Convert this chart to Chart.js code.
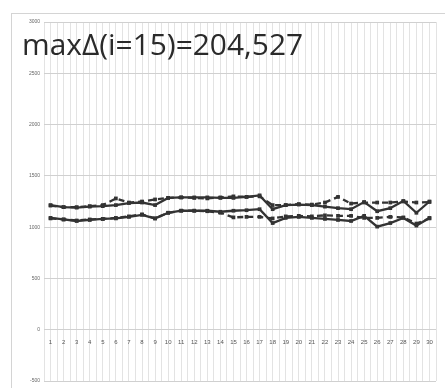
<!DOCTYPE html>
<html>
<head>
<meta charset="utf-8">
<script src="https://cdn.jsdelivr.net/npm/chart.js@4/dist/chart.umd.min.js"></script>
<style>
    html, body { margin: 0; padding: 0; background: #fff; }
    #wrap { position: relative; width: 445px; height: 388px; }
</style>
</head>
<body>
<div id="wrap"><canvas id="chart"></canvas></div>
<script>
// Data
const titleText = 'maxΔ(i=15)=204,527';
const steps = [1, 2, 3, 4, 5, 6, 7, 8, 9, 10, 11, 12, 13, 14, 15, 16, 17, 18, 19, 20, 21, 22, 23, 24, 25, 26, 27, 28, 29, 30];
const upperSolid = [1215, 1195, 1190, 1200, 1205, 1215, 1235, 1240, 1215, 1285, 1290, 1290, 1290, 1285, 1285, 1295, 1310, 1175, 1215, 1220, 1215, 1200, 1185, 1175, 1245, 1155, 1185, 1255, 1140, 1250];
const upperDashed = [1210, 1195, 1195, 1205, 1215, 1280, 1240, 1250, 1270, 1285, 1290, 1285, 1280, 1290, 1300, 1295, 1300, 1215, 1215, 1225, 1220, 1240, 1295, 1230, 1240, 1240, 1240, 1250, 1240, 1245];
const lowerSolid = [1090, 1075, 1060, 1070, 1080, 1085, 1100, 1120, 1085, 1140, 1160, 1160, 1160, 1150, 1160, 1165, 1175, 1040, 1090, 1100, 1090, 1080, 1070, 1060, 1110, 1005, 1040, 1090, 1015, 1090];
const lowerDashed = [1085, 1075, 1065, 1075, 1080, 1090, 1105, 1125, 1085, 1140, 1160, 1160, 1155, 1140, 1095, 1100, 1100, 1085, 1105, 1110, 1105, 1115, 1110, 1110, 1090, 1090, 1100, 1095, 1035, 1085];

const lineColor = '#333';

// Build a {x, y} series
function toPoints(values) {
    return values.map((v, i) => ({ x: steps[i], y: v }));
}

function makeSet(values, dashed) {
    return {
        data: toPoints(values),
        borderColor: lineColor,
        backgroundColor: lineColor,
        borderWidth: 2.3,
        borderDash: dashed ? [6, 4] : [],
        pointRadius: 1,
        pointStyle: 'rect',
        tension: 0
    };
}

// Outer frame and big text label
const decorPlugin = {
    id: 'decor',
    beforeDraw(chart) {
        const ctx = chart.ctx;
        ctx.save();
        ctx.strokeStyle = '#d4d4d4';
        ctx.lineWidth = 1;
        ctx.strokeRect(11.5, 13.5, 445, 390);
        ctx.restore();
    },
    afterDraw(chart) {
        const ctx = chart.ctx;
        ctx.save();
        ctx.font = '30px "Open Sans"';
        const w = ctx.measureText(titleText).width;
        const size = 30 * 281 / w;
        ctx.font = size.toFixed(1) + 'px "Open Sans"';
        ctx.fillStyle = '#2a2a2a';
        ctx.textBaseline = 'alphabetic';
        ctx.fillText(titleText, 22, 55);
        ctx.restore();
    }
};

new Chart(document.getElementById('chart'), {
    type: 'line',
    data: {
        datasets: [
            makeSet(upperSolid, false),
            makeSet(upperDashed, true),
            makeSet(lowerSolid, false),
            makeSet(lowerDashed, true)
        ]
    },
    options: {
        responsive: true,
        maintainAspectRatio: false,
        animation: false,
        layout: { padding: { left: 11, top: 22, right: 3, bottom: 7 } },
        plugins: {
            legend: { display: false },
            tooltip: { enabled: false }
        },
        scales: {
            x: {
                type: 'linear',
                min: 0.5,
                max: 30.5,
                position: { y: 0 },
                border: { display: false },
                grid: { color: '#e3e3e3', lineWidth: 1, drawTicks: false },
                ticks: {
                    stepSize: 0.5,
                    autoSkip: false,
                    maxRotation: 0,
                    padding: 9,
                    color: '#555',
                    font: { size: 6, family: 'Liberation Sans' },
                    callback: (v) => Number.isInteger(v) && v >= 1 ? String(v) : ''
                }
            },
            y: {
                min: -500,
                max: 3000,
                border: { display: false },
                grid: { color: '#d0d0d0', lineWidth: 1, drawTicks: false },
                afterFit: (scale) => { scale.width = 33; },
                ticks: {
                    stepSize: 500,
                    padding: 4,
                    color: '#666',
                    font: { size: 5, family: 'Liberation Sans' },
                    callback: (v) => String(v)
                }
            }
        }
    },
    plugins: [decorPlugin]
});
</script>
</body>
</html>
